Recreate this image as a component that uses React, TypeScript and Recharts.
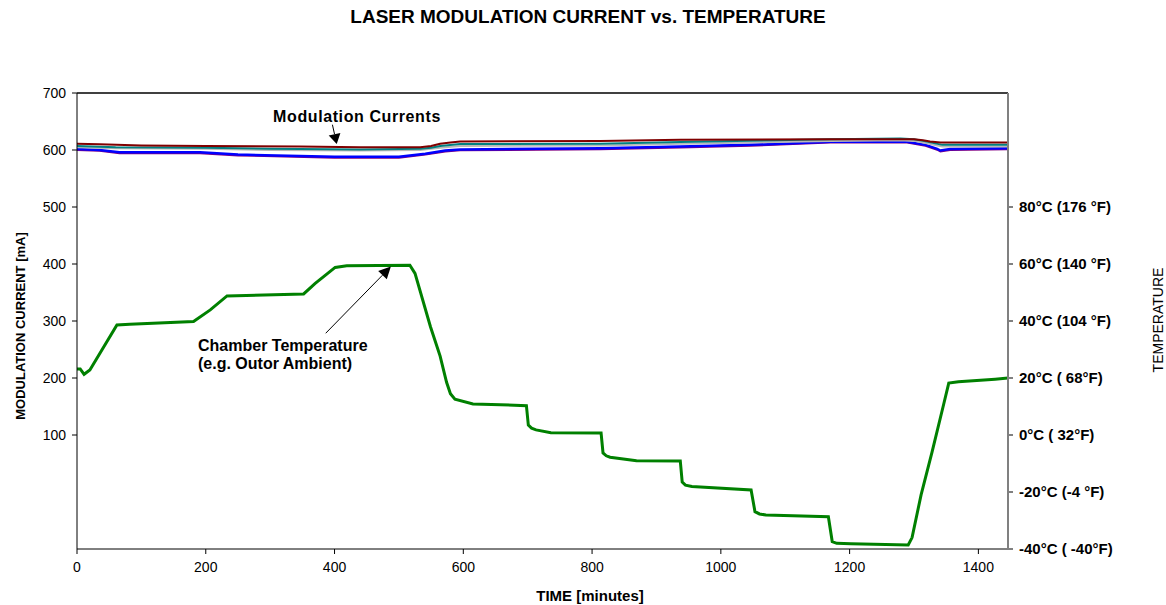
import React from 'react';
import { LineChart, Line, XAxis, YAxis, ReferenceLine } from 'recharts';

const X_TICKS = [0, 200, 400, 600, 800, 1000, 1200, 1400];
const LEFT_TICKS = [100, 200, 300, 400, 500, 600, 700];
const RIGHT_TICKS = [-40, -20, 0, 20, 40, 60, 80];
const RIGHT_LABELS = ['-40°C ( -40°F)', '-20°C (-4 °F)', '0°C ( 32°F)', '20°C ( 68°F)', '40°C (104 °F)', '60°C (140 °F)', '80°C (176 °F)'];

// Chamber temperature (°C) vs time (minutes)
const TEMP_T = [0, 5, 11, 20, 62, 82, 181, 207, 233, 352, 370, 401, 419, 517, 525, 549, 564, 574, 580, 587, 615, 698, 701, 706, 713, 736, 814, 817, 822, 828, 869, 937, 940, 945, 955, 1047, 1053, 1060, 1070, 1167, 1173, 1180, 1202, 1291, 1297, 1311, 1328, 1346, 1354, 1369, 1426, 1446];
const TEMP_C = [23.2, 23.2, 21.3, 22.8, 38.6, 38.9, 39.8, 43.9, 48.8, 49.5, 53.2, 58.8, 59.4, 59.6, 56.7, 38, 27.7, 18.5, 14.5, 12.6, 10.9, 10.3, 3.5, 2.4, 1.8, 0.8, 0.7, -6.3, -7.3, -7.8, -9.0, -9.1, -16.5, -17.6, -18.1, -19.3, -26.9, -27.7, -28.1, -28.7, -37.4, -38.0, -38.2, -38.6, -36.0, -21.0, -6.0, 10.7, 18.2, 18.7, 19.6, 20];

// Modulation currents (mA)
const RED_T = [0, 35, 100, 200, 346, 440, 533, 550, 564, 580, 595, 813, 937, 1170, 1300, 1314, 1325, 1341, 1446];
const RED_V = [611, 610, 608, 607, 606, 605, 605, 607, 611, 613, 615, 616, 618, 619, 619, 617, 615, 613, 613];
const TEAL_T = [0, 60, 200, 300, 440, 533, 550, 564, 595, 813, 937, 1170, 1279, 1300, 1314, 1344, 1446];
const TEAL_V = [607, 605, 604, 602, 601, 602, 604, 607, 610.5, 611, 614, 619, 620, 619, 616, 609, 609];
const GRAY_V = [605, 603, 602, 600, 599, 600, 602, 604, 607, 608, 611, 616, 617, 616, 613, 606, 606];
const BLUE_T = [0, 35, 66, 191, 250, 400, 500, 541, 572, 595, 813, 937, 1046, 1170, 1287, 1318, 1336, 1341, 1356, 1446];
const BLUE_V = [601.7, 600, 596, 596, 592, 588, 588, 593.5, 599, 601, 603, 606, 609, 614.5, 615, 609, 602, 599, 601.7, 603];
const PURPLE_V = [600, 598.5, 594.5, 594.5, 590.5, 586.5, 586.5, 592, 597.5, 599.5, 601.5, 604.5, 607.5, 613, 613.5, 607.5, 600.5, 597.5, 600, 601.5];

const zip = (ts: number[], vs: number[]) => ts.map((t, i) => ({ t, v: vs[i] }));

const tempData = zip(TEMP_T, TEMP_C);
const redData = zip(RED_T, RED_V);
const tealData = zip(TEAL_T, TEAL_V);
const grayData = zip(TEAL_T, GRAY_V);
const blueData = zip(BLUE_T, BLUE_V);
const purpleData = zip(BLUE_T, PURPLE_V);

const FONT = '"Liberation Sans", Arial, sans-serif';

const arrowShape = (headLen: number, headHalf: number, width: number) => (p: any) => {
  const { x1, y1, x2, y2 } = p;
  const dx = x2 - x1;
  const dy = y2 - y1;
  const len = Math.sqrt(dx * dx + dy * dy) || 1;
  const ux = dx / len;
  const uy = dy / len;
  const bx = x2 - ux * headLen;
  const by = y2 - uy * headLen;
  const pts = `${x2},${y2} ${bx - uy * headHalf},${by + ux * headHalf} ${bx + uy * headHalf},${by - ux * headHalf}`;
  return (
    <g>
      <line x1={x1} y1={y1} x2={bx} y2={by} stroke="#000" strokeWidth={width} />
      <polygon points={pts} fill="#000" />
    </g>
  );
};

export default function App() {
  return (
    <div style={{ position: 'absolute', left: 0, top: 0, width: 1166, height: 605, background: '#fff', fontFamily: FONT }}>
      <div style={{ position: 'absolute', left: 0, width: 1176, top: 6, textAlign: 'center', fontSize: 19, fontWeight: 'bold', lineHeight: '22px' }}>
        LASER MODULATION CURRENT vs. TEMPERATURE
      </div>
      <LineChart width={1166} height={605} margin={{ top: 93, right: 0, left: 0, bottom: 0 }} style={{ fontFamily: FONT }}>
        <XAxis
          type="number"
          dataKey="t"
          domain={[0, 1446]}
          ticks={X_TICKS}
          allowDataOverflow
          height={56}
          tickSize={5}
          tickMargin={8}
          stroke="#000"
          tick={{ fontSize: 14, fill: '#000' }}
        />
        <YAxis
          yAxisId="left"
          type="number"
          domain={[-100, 700]}
          ticks={LEFT_TICKS}
          width={77}
          tickSize={5}
          tickMargin={6}
          stroke="#000"
          tick={{ fontSize: 14, fill: '#000' }}
        />
        <YAxis
          yAxisId="right"
          orientation="right"
          type="number"
          domain={[-40, 120]}
          ticks={RIGHT_TICKS}
          width={158}
          tickSize={5}
          tickMargin={6}
          stroke="#808080"
          strokeWidth={2}
          tick={{ fontSize: 15, fill: '#000', fontWeight: 'bold' }}
          tickFormatter={(v: number) => RIGHT_LABELS[RIGHT_TICKS.indexOf(v)]}
        />
        <ReferenceLine yAxisId="left" y={700} stroke="#000" strokeWidth={1.5} />
        <Line yAxisId="left" data={purpleData} dataKey="v" type="linear" stroke="#800080" strokeWidth={2} dot={false} isAnimationActive={false} />
        <Line yAxisId="left" data={blueData} dataKey="v" type="linear" stroke="#0000ff" strokeWidth={2.5} dot={false} isAnimationActive={false} />
        <Line yAxisId="left" data={grayData} dataKey="v" type="linear" stroke="#b8b8b8" strokeWidth={2} dot={false} isAnimationActive={false} />
        <Line yAxisId="left" data={tealData} dataKey="v" type="linear" stroke="#008080" strokeWidth={2} dot={false} isAnimationActive={false} />
        <Line yAxisId="left" data={redData} dataKey="v" type="linear" stroke="#800000" strokeWidth={2} dot={false} isAnimationActive={false} />
        <Line yAxisId="right" data={tempData} dataKey="v" type="linear" stroke="#008000" strokeWidth={3} dot={false} isAnimationActive={false} />
        <ReferenceLine
          yAxisId="left"
          segment={[{ x: 396.7, y: 644.4 }, { x: 403.4, y: 610.5 }]}
          shape={arrowShape(10, 6, 1)}
        />
        <ReferenceLine
          yAxisId="right"
          segment={[{ x: 386.3, y: 35.7 }, { x: 487.5, y: 59.1 }]}
          shape={arrowShape(12, 6, 1)}
        />
      </LineChart>
      <div style={{ position: 'absolute', left: 257, width: 200, top: 107, textAlign: 'center', fontSize: 16, fontWeight: 'bold', lineHeight: '20px', letterSpacing: 0.6 }}>
        Modulation Currents
      </div>
      <div style={{ position: 'absolute', left: 198, top: 337, fontSize: 16, fontWeight: 'bold', lineHeight: '18px', whiteSpace: 'nowrap' }}>
        Chamber Temperature<br />(e.g. Outor Ambient)
      </div>
      <div style={{ position: 'absolute', left: 20, top: 326, width: 0, height: 0 }}>
        <div style={{ position: 'absolute', transform: 'translate(-50%, -50%) rotate(-90deg)', fontSize: 13, fontWeight: 'bold', whiteSpace: 'nowrap' }}>
          MODULATION CURRENT [mA]
        </div>
      </div>
      <div style={{ position: 'absolute', left: 1158, top: 320, width: 0, height: 0 }}>
        <div style={{ position: 'absolute', transform: 'translate(-50%, -50%) rotate(-90deg)', fontSize: 14, whiteSpace: 'nowrap' }}>
          TEMPERATURE
        </div>
      </div>
      <div style={{ position: 'absolute', left: 0, width: 1180, top: 587, textAlign: 'center', fontSize: 15, fontWeight: 'bold', lineHeight: '18px' }}>
        TIME [minutes]
      </div>
    </div>
  );
}
